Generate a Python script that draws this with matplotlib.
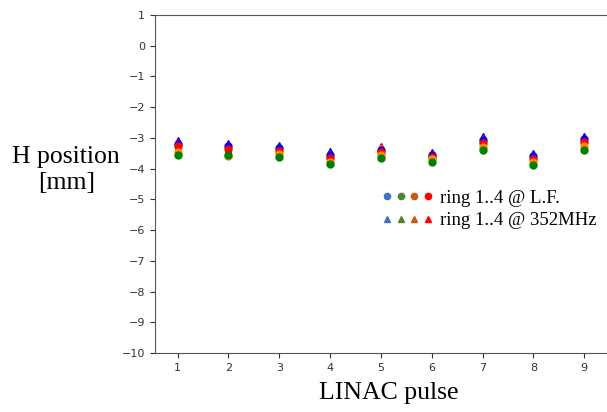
import numpy as np
import matplotlib.pyplot as plt
from matplotlib.lines import Line2D
from matplotlib.legend_handler import HandlerTuple

pulse = [1, 2, 3, 4, 5, 6, 7, 8, 9]

# ring 1..4 at 352MHz (triangles)
tri_r1 = [-3.07, -3.17, -3.23, -3.43, -3.30, -3.45, -2.95, -3.49, -2.94]
tri_r2 = [-3.35, -3.35, -3.38, -3.62, -3.42, -3.58, -3.15, -3.70, -3.15]
tri_r3 = [-3.25, -3.38, -3.35, -3.58, -3.33, -3.55, -3.10, -3.63, -3.08]
tri_r4 = [-3.13, -3.22, -3.27, -3.50, -3.27, -3.50, -3.02, -3.55, -3.00]
# ring 1..4 at L.F. (circles)
circ_r1 = [-3.20, -3.28, -3.32, -3.55, -3.38, -3.55, -3.07, -3.60, -3.05]
circ_r2 = [-3.57, -3.56, -3.61, -3.86, -3.67, -3.78, -3.39, -3.88, -3.41]
circ_r3 = [-3.45, -3.60, -3.52, -3.78, -3.55, -3.70, -3.30, -3.80, -3.28]
circ_r4 = [-3.28, -3.35, -3.42, -3.65, -3.45, -3.62, -3.18, -3.70, -3.15]

colors = ['blue', 'green', 'darkorange', 'red']
leg_colors = ['#4472c4', '#548235', '#c55a11', 'red']

fig = plt.figure(figsize=(6.07, 4.12), dpi=100)
ax = fig.add_axes([0.255, 0.143, 0.745, 0.821])

tris = [tri_r1, tri_r2, tri_r3, tri_r4]
circs = [circ_r1, circ_r2, circ_r3, circ_r4]
for i in [0, 3, 2, 1]:
    ax.plot(pulse, tris[i], '^', color=colors[i], ms=5, ls='none')
for i in [0, 3, 2, 1]:
    ax.plot(pulse, circs[i], 'o', color=colors[i], ms=5, ls='none')

ax.set_xlim(0.55, 9.45)
ax.set_ylim(-10, 1)
ax.set_xticks(pulse)
ax.set_yticks(np.arange(-10, 2, 1))
ax.tick_params(labelsize=8, colors='#333333')
ax.spines['right'].set_visible(False)
for s in ['left', 'bottom', 'top']:
    ax.spines[s].set_color('#555555')

circ_h = tuple(Line2D([], [], marker='o', color=c, ls='none', ms=4.5) for c in leg_colors)
tri_h = tuple(Line2D([], [], marker='^', color=c, ls='none', ms=4.5) for c in leg_colors)
ax.legend([circ_h, tri_h], ['ring 1..4 @ L.F.', 'ring 1..4 @ 352MHz'],
          handler_map={tuple: HandlerTuple(ndivide=None, pad=0.45)},
          loc='center left', bbox_to_anchor=(0.507, 0.425), frameon=False,
          borderpad=0, borderaxespad=0,
          prop={'family': 'Liberation Serif', 'size': 13.5},
          handlelength=2.5, handletextpad=0.5, labelspacing=0.3)

fig.text(0.109, 0.587, 'H position\n[mm]', ha='center', va='center',
         family='Liberation Serif', fontsize=18.5, linespacing=1.2)
fig.text(0.64, 0.046, 'LINAC pulse', ha='center', va='center',
         family='Liberation Serif', fontsize=18.5)

fig.savefig('out.png', dpi=100)
